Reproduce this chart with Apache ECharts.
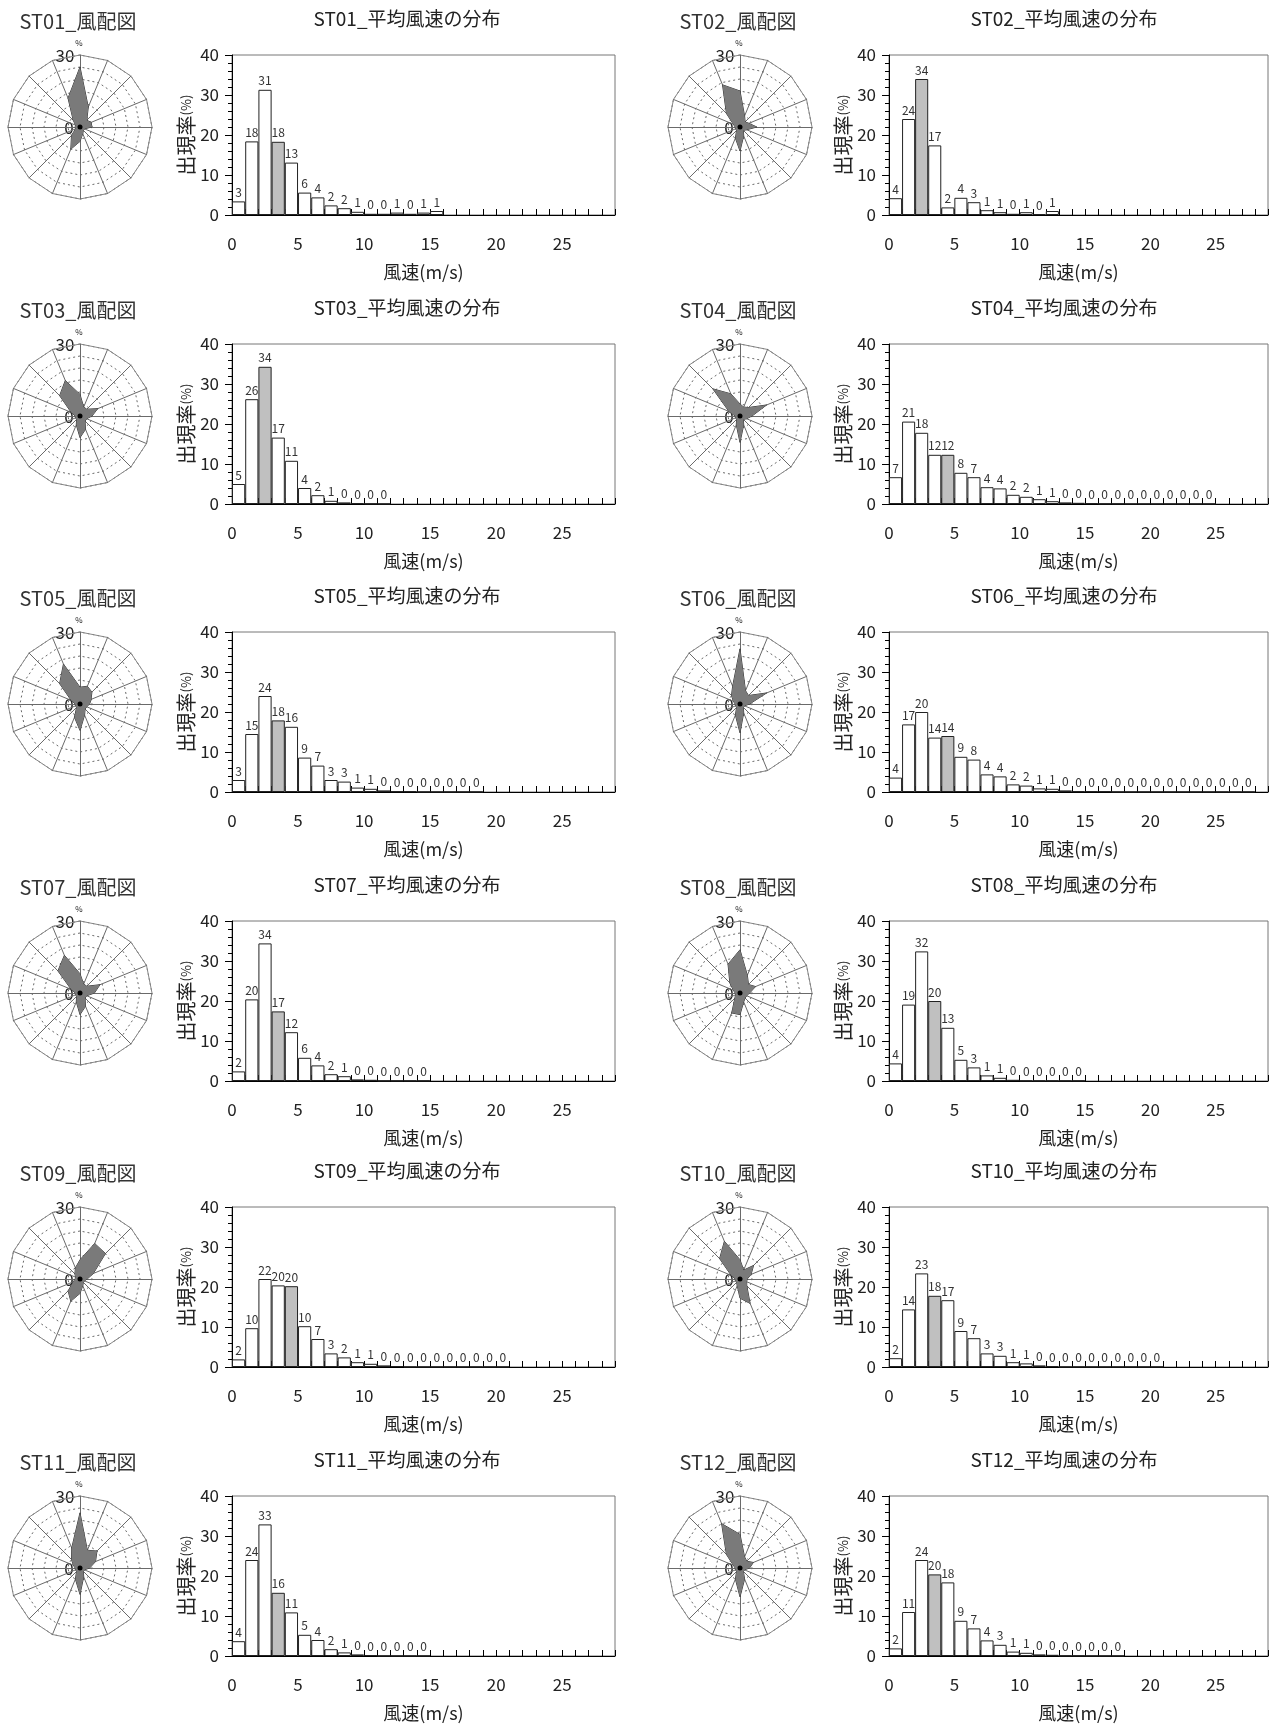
<!DOCTYPE html>
<html>
<head>
<meta charset="utf-8">
<title>風配図・平均風速の分布</title>
<script src="https://cdn.jsdelivr.net/npm/echarts@6/dist/echarts.min.js"></script>
<style>
html, body { margin: 0; padding: 0; background: #fff; }
#main { width: 1271px; height: 1726px; }
</style>
</head>
<body>
<div id="main"></div>
<script>
var stations = ['ST01', 'ST02', 'ST03', 'ST04', 'ST05', 'ST06', 'ST07', 'ST08', 'ST09', 'ST10', 'ST11', 'ST12'];
// 16方位（時計回り）
var directions = ['N', 'NNE', 'NE', 'ENE', 'E', 'ESE', 'SE', 'SSE', 'S', 'SSW', 'SW', 'WSW', 'W', 'WNW', 'NW', 'NNW'];
var speedBins = ['0', '1', '2', '3', '4', '5', '6', '7', '8', '9', '10', '11', '12', '13', '14', '15', '16', '17', '18', '19', '20', '21', '22', '23', '24', '25', '26', '27', '28'];

// 風配図 出現率(%)
var st01Rose = [25, 9, 4, 5, 5, 2, 2, 3, 6, 10, 5, 2, 2, 2, 4, 13];
var st02Rose = [15, 5, 3, 4, 7, 3, 2, 4, 10, 5, 2, 2, 2, 3, 8, 19];
var st03Rose = [9, 4, 4, 8, 5, 3, 3, 6, 9, 4, 2, 2, 2, 4, 12, 16];
var st04Rose = [5, 4, 5, 12, 5, 3, 2, 4, 11, 4, 2, 2, 2, 5, 16, 10];
var st05Rose = [7, 8, 7, 5, 4, 3, 3, 5, 11, 6, 2, 2, 2, 4, 12, 18];
var st06Rose = [23, 6, 5, 12, 4, 2, 2, 4, 12, 5, 2, 2, 2, 3, 5, 8];
var st07Rose = [8, 4, 4, 9, 6, 3, 3, 6, 9, 4, 2, 2, 2, 4, 13, 17];
var st08Rose = [18, 8, 5, 7, 4, 3, 3, 4, 9, 9, 3, 2, 2, 3, 6, 13];
var st09Rose = [8, 16, 15, 6, 3, 2, 2, 3, 6, 10, 7, 3, 2, 2, 3, 5];
var st10Rose = [8, 4, 8, 5, 3, 3, 4, 11, 8, 3, 2, 2, 2, 4, 12, 17];
var st11Rose = [23, 8, 10, 7, 4, 2, 2, 4, 11, 5, 2, 2, 2, 3, 5, 9];
var st12Rose = [14, 5, 4, 6, 4, 2, 2, 5, 12, 5, 2, 2, 2, 3, 8, 20];

// 平均風速の分布 出現率(%)  1m/s 階級
var st01Hist = [3.4, 18.4, 31.3, 18.3, 13.1, 5.6, 4.4, 2.4, 1.7, 0.8, 0.3, 0.3, 0.6, 0.3, 0.6, 1.0];
var st02Hist = [4.2, 24.0, 34.0, 17.4, 1.9, 4.3, 3.2, 1.2, 0.7, 0.3, 0.7, 0.2, 1.0];
var st03Hist = [5.0, 26.2, 34.3, 16.6, 10.8, 4.0, 2.2, 0.8, 0.4, 0.2, 0.1, 0.05];
var st04Hist = [6.7, 20.6, 17.8, 12.3, 12.3, 7.8, 6.7, 4.2, 3.9, 2.3, 1.8, 1.2, 0.7, 0.4, 0.3, 0.2, 0.1, 0.1, 0.05, 0.05, 0.05, 0.05, 0.05, 0.05, 0.05];
var st05Hist = [3.0, 14.5, 24.0, 17.9, 16.3, 8.6, 6.6, 3.0, 2.6, 1.1, 0.8, 0.4, 0.2, 0.2, 0.05, 0.05, 0.05, 0.05, 0.05];
var st06Hist = [3.6, 16.9, 20.0, 13.6, 14.0, 8.8, 8.1, 4.4, 3.9, 1.9, 1.6, 0.9, 0.8, 0.4, 0.2, 0.2, 0.2, 0.05, 0.05, 0.05, 0.05, 0.05, 0.05, 0.05, 0.05, 0.05, 0.05, 0.05];
var st07Hist = [2.4, 20.4, 34.4, 17.4, 12.2, 5.8, 3.9, 1.7, 1.2, 0.4, 0.3, 0.1, 0.1, 0.1, 0.1];
var st08Hist = [4.4, 19.1, 32.4, 20.0, 13.3, 5.3, 3.4, 1.4, 0.8, 0.3, 0.1, 0.1, 0.1, 0.1, 0.1];
var st09Hist = [1.9, 9.7, 22.0, 20.4, 20.2, 10.2, 7.0, 3.4, 2.4, 1.2, 0.8, 0.4, 0.25, 0.05, 0.05, 0.05, 0.05, 0.05, 0.05, 0.05, 0.05];
var st10Hist = [2.2, 14.4, 23.4, 17.8, 16.7, 9.0, 7.2, 3.4, 2.8, 1.2, 0.9, 0.4, 0.25, 0.05, 0.05, 0.05, 0.05, 0.05, 0.05, 0.05, 0.05];
var st11Hist = [3.7, 24.0, 32.9, 15.8, 10.9, 5.3, 4.0, 1.7, 0.9, 0.4, 0.25, 0.05, 0.05, 0.05, 0.05];
var st12Hist = [1.9, 11.0, 24.0, 20.4, 18.4, 8.8, 6.9, 3.9, 2.8, 1.1, 0.8, 0.4, 0.3, 0.1, 0.1, 0.05, 0.05, 0.05];

// 平均風速を含む階級（灰色）
var meanBin = [3, 2, 2, 4, 3, 4, 3, 3, 4, 3, 3, 3];

var roseList = [st01Rose, st02Rose, st03Rose, st04Rose, st05Rose, st06Rose, st07Rose, st08Rose, st09Rose, st10Rose, st11Rose, st12Rose];
var histList = [st01Hist, st02Hist, st03Hist, st04Hist, st05Hist, st06Hist, st07Hist, st08Hist, st09Hist, st10Hist, st11Hist, st12Hist];

var FONT = '"Noto Sans CJK JP", "Noto Sans", sans-serif';
var rowY = [0, 289, 577, 866, 1152, 1441];
var roseX = [80, 740];
var plotX = [232, 889];
var plotW = 383, plotH = 160, plotTop = 55;
var roseCy = 127, roseR = 72;

// radar の軸は反時計回りに並ぶので、方位の順を入れ替える
var ccwOrder = [0, 15, 14, 13, 12, 11, 10, 9, 8, 7, 6, 5, 4, 3, 2, 1];
var indicator = ccwOrder.map(function (k) { return { name: directions[k], min: 0, max: 30 }; });

var chart = echarts.init(document.getElementById('main'));

var grids = [], xAxes = [], yAxes = [], radars = [], series = [], graphics = [];

function txt(x, y, text, size, color) {
	return {
		type: 'text', x: x, y: y, silent: true,
		style: {
			text: text, font: size + 'px ' + FONT, fill: color || '#222',
			align: 'center', verticalAlign: 'middle',
			textAlign: 'center', textVerticalAlign: 'middle'
		}
	};
}

stations.forEach(function (name, i) {
	var col = i % 2, row = Math.floor(i / 2);
	var oy = rowY[row];
	var cx = roseX[col], cy = roseCy + oy;
	var px = plotX[col];

	graphics.push(txt(cx - 2, 21 + oy, name + '_風配図', 20, '#333'));
	graphics.push(txt(px + 175, 19 + oy, name + '_平均風速の分布', 19, '#222'));
	graphics.push(txt(cx - 15, cy - 71, '30', 17, '#222'));
	graphics.push(txt(cx - 11, cy + 1, '0', 17, '#222'));
	graphics.push(txt(cx - 1, cy - 84, '%', 8, '#222'));
	graphics.push({ type: 'circle', shape: { cx: cx, cy: cy, r: 2.5 }, style: { fill: '#000' }, z: 10, silent: true });

	// 風配図
	radars.push({
		center: [cx, cy], radius: roseR, startAngle: 90, shape: 'polygon', splitNumber: 6,
		indicator: indicator,
		axisName: { show: false },
		axisLine: { lineStyle: { color: '#6a6a6a', width: 1 } },
		splitLine: { lineStyle: { color: '#6a6a6a', width: 1, type: [2, 3] } },
		splitArea: { show: false }
	});
	radars.push({
		center: [cx, cy], radius: roseR, startAngle: 90, shape: 'polygon', splitNumber: 1,
		indicator: indicator,
		axisName: { show: false },
		axisLine: { show: false },
		splitLine: { lineStyle: { color: '#888', width: 1 } },
		splitArea: { show: false }
	});
	var rose = roseList[i];
	series.push({
		type: 'radar', radarIndex: 2 * i, symbol: 'none', silent: true,
		lineStyle: { color: '#333', width: 1 },
		areaStyle: { color: '#7a7a7a', opacity: 1 },
		data: [{ value: ccwOrder.map(function (k) { return rose[k]; }) }]
	});

	// 平均風速の分布
	grids.push({
		left: px, top: plotTop + oy, width: plotW, height: plotH,
		show: true, borderColor: '#777', borderWidth: 1
	});
	xAxes.push({
		gridIndex: i, type: 'value', min: 0, max: 29, interval: 1,
		axisLine: { lineStyle: { color: '#000' } },
		axisTick: { inside: true, length: 6, lineStyle: { color: '#000' } },
		axisLabel: {
			margin: 20, fontSize: 17, color: '#222', fontFamily: FONT,
			formatter: function (v) { return (v % 5 === 0 && v < 29) ? String(v) : ''; }
		},
		splitLine: { show: false },
		name: '風速(m/s)', nameLocation: 'middle', nameGap: 48,
		nameTextStyle: { fontSize: 18, color: '#222', fontFamily: FONT }
	});
	xAxes.push({ gridIndex: i, type: 'category', data: speedBins, show: false });
	yAxes.push({
		gridIndex: i, type: 'value', min: 0, max: 40, interval: 10,
		axisLine: { show: true, lineStyle: { color: '#000' } },
		axisTick: { show: true, length: 7, lineStyle: { color: '#000' } },
		minorTick: { show: true, splitNumber: 5, length: 4, lineStyle: { color: '#000' } },
		splitLine: { show: false },
		axisLabel: { fontSize: 17, margin: 13, color: '#222', fontFamily: FONT },
		name: '{a|出現率}{b|(%)}', nameLocation: 'middle', nameGap: 36, nameRotate: 90,
		nameTextStyle: {
			rich: {
				a: { fontSize: 20, color: '#222', fontFamily: FONT },
				b: { fontSize: 13, color: '#222', fontFamily: FONT }
			}
		}
	});
	var hist = histList[i];
	series.push({
		type: 'bar', xAxisIndex: 2 * i + 1, yAxisIndex: i,
		barWidth: '100%', barCategoryGap: '0%', silent: true,
		itemStyle: { borderColor: '#222', borderWidth: 1 },
		label: {
			show: true, position: 'top', distance: 3, fontSize: 12, color: '#333', fontFamily: FONT,
			formatter: function (p) { return String(Math.round(p.value)); }
		},
		data: hist.map(function (v, k) {
			return { value: v, itemStyle: { color: k === meanBin[i] ? '#c0c0c0' : '#fff' } };
		})
	});
});

chart.setOption({
	animation: false,
	backgroundColor: '#fff',
	grid: grids,
	xAxis: xAxes,
	yAxis: yAxes,
	radar: radars,
	series: series,
	graphic: { elements: graphics }
});
</script>
</body>
</html>
